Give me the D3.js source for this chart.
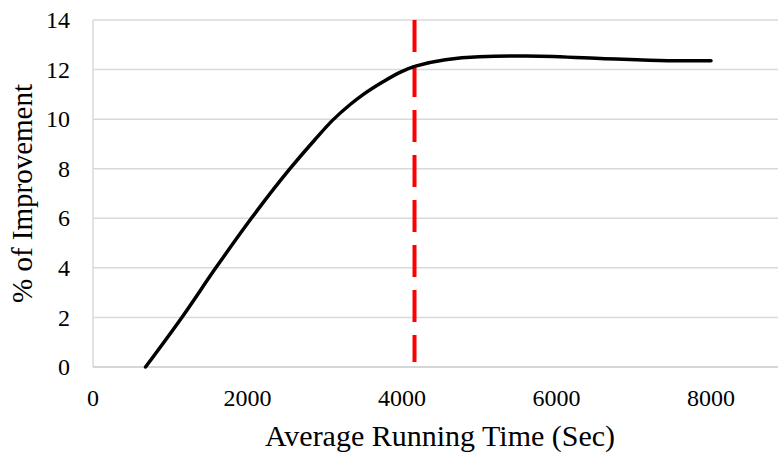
<!DOCTYPE html>
<html>
<head>
<meta charset="utf-8">
<script src="https://cdn.jsdelivr.net/npm/d3@7"></script>
<style>
  body { margin: 0; background: #fff; }
</style>
</head>
<body>
<div id="chart"></div>
<script>
// values
const runTime = [680, 1150, 1590, 2050, 2550, 2880, 3100, 3333, 3500, 3760, 3980, 4175, 5000, 5600, 6570, 7440, 8000];
const improvement = [0, 2, 4, 6, 8, 9.2, 9.95, 10.6, 11.0, 11.52, 11.9, 12.14, 12.52, 12.55, 12.45, 12.36, 12.36];
const xTicks = [0, 2000, 4000, 6000, 8000];
const yTicks = [0, 2, 4, 6, 8, 10, 12, 14];
const markerX = [4162];

(function() {
  'use strict';

  let width = 778,
      height = 454,
      margin = { top: 20, right: 0, bottom: 87, left: 93 },
      font = '"Liberation Serif", "DejaVu Serif", "Times New Roman", serif',

      svg = d3.select('#chart')
        .append('svg')
        .attr('width', width)
        .attr('height', height)
        .attr('font-family', font),

      // plot area runs past the right edge in the reference (cropped)
      x = d3.scaleLinear()
        .domain([0, 9000])
        .range([margin.left, margin.left + 9000 * 0.07725]),

      y = d3.scaleLinear()
        .domain([0, 14])
        .range([height - margin.bottom, margin.top]),

      points = runTime.map((t, i) => ({ t: t, v: improvement[i] }));

  // gridlines
  svg.append('g')
    .selectAll('line')
    .data(yTicks.slice(1))
    .enter()
    .append('line')
      .attr('x1', x(0))
      .attr('x2', width)
      .attr('y1', d => y(d))
      .attr('y2', d => y(d))
      .style('stroke', '#d9d9d9')
      .style('stroke-width', 1.5);

  // left and bottom axis lines
  svg.append('line')
    .attr('x1', x(0)).attr('x2', x(0))
    .attr('y1', y(14)).attr('y2', y(0))
    .style('stroke', '#d9d9d9')
    .style('stroke-width', 1.5);

  svg.append('line')
    .attr('x1', x(0)).attr('x2', width)
    .attr('y1', y(0)).attr('y2', y(0))
    .style('stroke', '#c8c8c8')
    .style('stroke-width', 1.5);

  // y tick labels
  svg.append('g')
    .selectAll('text')
    .data(yTicks)
    .enter()
    .append('text')
      .attr('x', 70)
      .attr('y', d => y(d))
      .attr('dy', '0.34em')
      .attr('text-anchor', 'end')
      .attr('font-family', font)
      .style('font-size', '24px')
      .text(d => d);

  // x tick labels
  svg.append('g')
    .selectAll('text')
    .data(xTicks)
    .enter()
    .append('text')
      .attr('x', d => x(d))
      .attr('y', 406)
      .attr('text-anchor', 'middle')
      .attr('font-family', font)
      .style('font-size', '24px')
      .text(d => d);

  // dashed marker
  svg.append('g')
    .selectAll('line')
    .data(markerX)
    .enter()
    .append('line')
      .attr('x1', d => x(d))
      .attr('x2', d => x(d))
      .attr('y1', y(14))
      .attr('y2', y(0) - 5)
      .style('stroke', '#ff0000')
      .style('stroke-width', 4)
      .style('stroke-dasharray', '32,13');

  // curve
  let line = d3.line()
    .x(d => x(d.t))
    .y(d => y(d.v))
    .curve(d3.curveMonotoneX);

  svg.append('path')
    .datum(points)
    .attr('d', line)
    .style('fill', 'none')
    .style('stroke', '#000')
    .style('stroke-width', 3.5)
    .style('stroke-linecap', 'round');

  // axis titles
  svg.append('text')
    .attr('x', 440)
    .attr('y', 446)
    .attr('text-anchor', 'middle')
    .attr('font-family', font)
    .style('font-size', '30px')
    .text('Average Running Time (Sec)');

  svg.append('text')
    .attr('transform', `translate(32, ${(y(0) + y(14)) / 2}) rotate(-90)`)
    .attr('text-anchor', 'middle')
    .attr('font-family', font)
    .style('font-size', '29px')
    .text('% of Improvement');
})();
</script>
</body>
</html>
